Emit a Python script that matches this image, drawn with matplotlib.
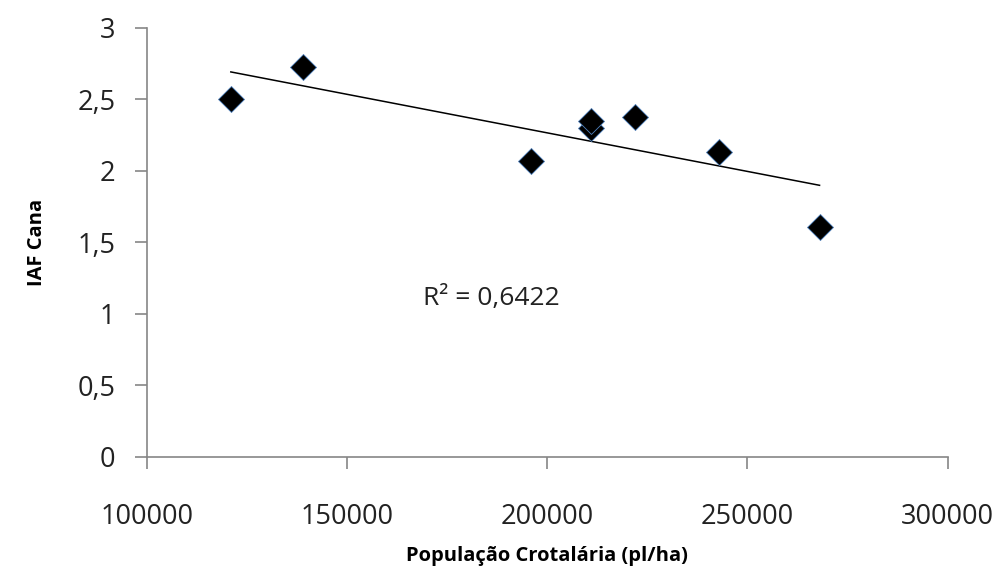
import matplotlib
matplotlib.use("Agg")
import matplotlib.pyplot as plt
import numpy as np

# data
populacao = [121000, 139000, 196000, 211000, 211000, 222000, 243000, 268000]
iaf_cana = [2.50, 2.73, 2.07, 2.30, 2.35, 2.38, 2.13, 1.61]
r2_label = "R² = 0,6422"

x_ticks = [100000, 150000, 200000, 250000, 300000]
y_ticks = [0, 0.5, 1, 1.5, 2, 2.5, 3]
y_tick_labels = ["0", "0,5", "1", "1,5", "2", "2,5", "3"]

plt.rcParams['font.family'] = ['Open Sans', 'DejaVu Sans']
AXIS_GREY = "#868686"

fig = plt.figure(figsize=(10.05, 5.82), dpi=100)
ax = fig.add_axes([0.146, 0.215, 0.797, 0.737])

ax.scatter(populacao, iaf_cana, marker="D", s=175, color="black",
           edgecolors="#4f81bd", linewidths=0.6, zorder=3)

# linear trendline over the data range
slope, intercept = np.polyfit(populacao, iaf_cana, 1)
xs = np.array([min(populacao), max(populacao)])
ax.plot(xs, slope * xs + intercept, color="black", lw=1.1, zorder=2)

ax.text(169000, 1.11, r2_label, fontsize=19, ha="left", va="center", color="#222222")

ax.set_xlim(100000, 300000)
ax.set_ylim(0, 3)
ax.set_xticks(x_ticks)
ax.set_xticklabels([str(v) for v in x_ticks])
ax.set_yticks(y_ticks)
ax.set_yticklabels(y_tick_labels)

for side in ["top", "right"]:
    ax.spines[side].set_visible(False)
for side in ["left", "bottom"]:
    ax.spines[side].set_color(AXIS_GREY)
    ax.spines[side].set_linewidth(1.2)

ax.tick_params(axis="both", direction="out", length=8.5, width=1.2, color=AXIS_GREY,
               labelsize=19.5, labelcolor="#222222")
ax.tick_params(axis="x", pad=25)
ax.tick_params(axis="y", pad=14)

ax.set_xlabel("População Crotalária (pl/ha)", fontsize=14.5, fontweight="bold")
ax.set_ylabel("IAF Cana", fontsize=14.5, fontweight="bold")
ax.xaxis.set_label_coords(0.5, -0.207)
ax.yaxis.set_label_coords(-0.125, 0.5)

fig.savefig("out.png", dpi=100)
